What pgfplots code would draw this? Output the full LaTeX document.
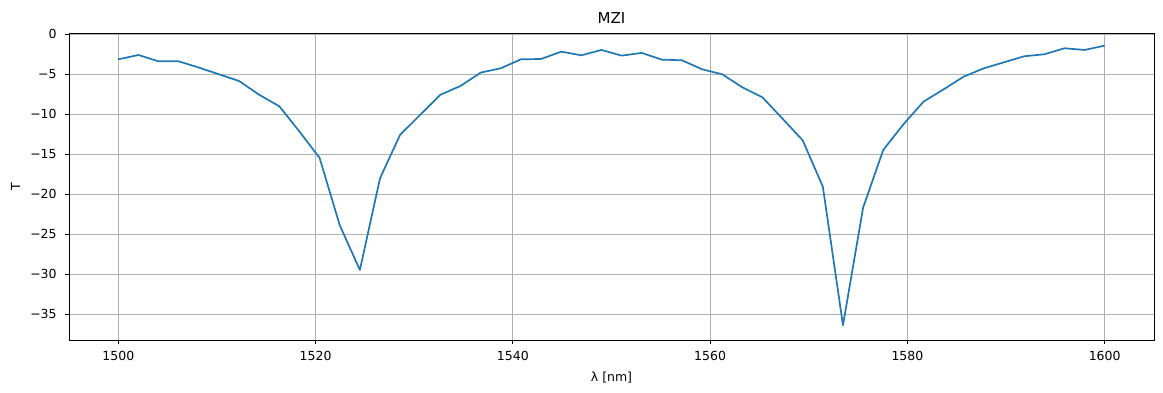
\documentclass[border=0pt]{standalone}
\usepackage{pgfplots}
\pgfplotsset{compat=1.18}
\usepackage{fontspec}
\setmainfont{DejaVu Sans}
\definecolor{mplblue}{HTML}{1F77B4}
\definecolor{mplgrid}{HTML}{B0B0B0}
\begin{document}
\fontsize{12.5pt}{15pt}\selectfont
\begin{tikzpicture}
\useasboundingbox (-69pt,-53pt) rectangle (1094pt,340pt);
\begin{axis}[
  at={(0,0)}, anchor=south west,
  scale only axis, width=1085pt, height=307pt,
  xmin=1495, xmax=1605, ymin=-38.25, ymax=0.12,
  xtick={1500,1520,1540,1560,1580,1600},
  ytick={0,-5,-10,-15,-20,-25,-30,-35},
  yticklabels={0,−5,−10,−15,−20,−25,−30,−35},
  /pgf/number format/assume math mode=true,
  /pgf/number format/1000 sep={},
  grid=major,
  grid style={color=mplgrid, line width=0.9pt},
  axis line style={line width=0.9pt},
  tick style={black, line width=0.9pt},
  tick align=outside, major tick length=4pt,
  xtick pos=bottom, ytick pos=left,
  tick label style={font=\fontsize{12.5pt}{15pt}\selectfont},
  xticklabel style={yshift=-3pt},
  yticklabel style={xshift=-4pt},
  xlabel={λ [nm]}, ylabel={T},
  xlabel style={at={(axis description cs:0.5,0)}, anchor=north, inner sep=0pt, yshift=-32pt, font=\fontsize{12.5pt}{15pt}\selectfont},
  ylabel style={at={(axis description cs:0,0.5)}, anchor=center, inner sep=0pt, rotate=0, yshift=53.5pt, font=\fontsize{12.5pt}{15pt}\selectfont},
  title={MZI},
  title style={at={(axis description cs:0.5,1)}, anchor=south, inner sep=0pt, yshift=3pt, font=\fontsize{15pt}{18pt}\selectfont},
]
\addplot[color=mplblue, line width=1.7pt, line join=round] coordinates {
(1500.000,-3.17) (1502.041,-2.63) (1504.082,-3.42) (1506.122,-3.42)
(1508.163,-4.20) (1510.204,-5.04) (1512.245,-5.88) (1514.286,-7.60)
(1516.327,-9.04) (1518.367,-12.20) (1520.408,-15.50) (1522.449,-23.90)
(1524.490,-29.50) (1526.531,-18.04) (1528.571,-12.60) (1530.612,-10.10)
(1532.653,-7.60) (1534.694,-6.50) (1536.735,-4.83) (1538.776,-4.29)
(1540.816,-3.17) (1542.857,-3.13) (1544.898,-2.21) (1546.939,-2.67)
(1548.980,-2.00) (1551.020,-2.71) (1553.061,-2.37) (1555.102,-3.21)
(1557.143,-3.29) (1559.184,-4.42) (1561.224,-5.04) (1563.265,-6.67)
(1565.306,-7.92) (1567.347,-10.60) (1569.388,-13.30) (1571.429,-19.10)
(1573.469,-36.40) (1575.510,-21.70) (1577.551,-14.50) (1579.592,-11.30)
(1581.633,-8.46) (1583.673,-6.92) (1585.714,-5.33) (1587.755,-4.29)
(1589.796,-3.54) (1591.837,-2.79) (1593.878,-2.54) (1595.918,-1.79)
(1597.959,-2.00) (1600.000,-1.46)
};
\end{axis}
\end{tikzpicture}
\end{document}
